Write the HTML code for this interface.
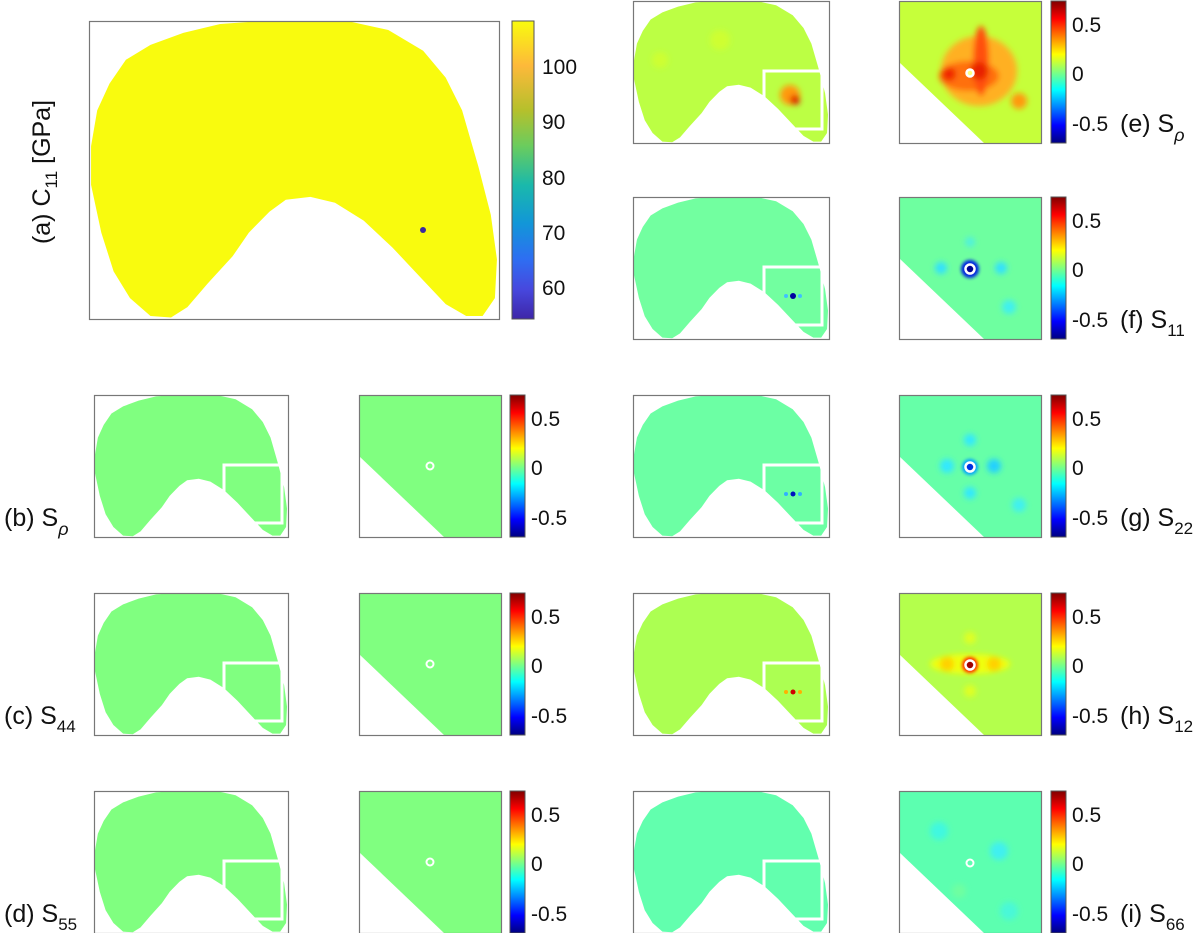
<!DOCTYPE html>
<html><head><meta charset="utf-8"><style>
html,body{margin:0;padding:0;background:#fff;}
svg{display:block;}
text{font-family:"Liberation Sans",sans-serif;fill:#111;}
</style></head><body>
<svg width="1200" height="933" viewBox="0 0 1200 933" xmlns="http://www.w3.org/2000/svg">
<defs>
<path id="bean" d="M420,0 L630,0 L730,30 L815,100 L870,190 L910,300 L950,490 L980,650 L995,800 L990,930 L960,990 L920,990 L870,950 L815,870 L740,760 L670,670 L600,610 L540,590 L480,600 L440,640 L390,710 L350,790 L290,880 L240,960 L200,995 L150,990 L100,930 L60,840 L30,710 L5,550 L5,420 L20,300 L50,210 L90,130 L150,80 L230,40 L320,10 Z"/>
<linearGradient id="jet" x1="0" y1="0" x2="0" y2="1">
<stop offset="0" stop-color="#800000"/><stop offset="0.125" stop-color="#ff0000"/>
<stop offset="0.375" stop-color="#ffff00"/><stop offset="0.5" stop-color="#80ff80"/><stop offset="0.625" stop-color="#00ffff"/>
<stop offset="0.875" stop-color="#0000ff"/><stop offset="1" stop-color="#000080"/>
</linearGradient>
<linearGradient id="parula" x1="0" y1="0" x2="0" y2="1">
<stop offset="0" stop-color="#f9fb0e"/><stop offset="0.15" stop-color="#fdb93a"/>
<stop offset="0.3" stop-color="#b5c02c"/><stop offset="0.42" stop-color="#6acc5e"/>
<stop offset="0.55" stop-color="#1ab9ab"/><stop offset="0.68" stop-color="#1296d8"/>
<stop offset="0.8" stop-color="#2e6ef2"/><stop offset="0.9" stop-color="#4748de"/>
<stop offset="1" stop-color="#3e26a8"/>
</linearGradient>
<filter id="blur" x="-50%" y="-50%" width="200%" height="200%"><feGaussianBlur stdDeviation="3"/></filter>
<filter id="blur2" x="-50%" y="-50%" width="200%" height="200%"><feGaussianBlur stdDeviation="1.5"/></filter>
</defs>

<use href="#bean" transform="translate(89,21) scale(0.41,0.298)" fill="#f9fb0e"/>
<circle cx="423" cy="230" r="3" fill="#3a2aa0"/>
<rect x="89.5" y="21.5" width="410" height="298" fill="none" stroke="#777" stroke-width="1.2"/>
<rect x="512" y="21" width="22" height="298" fill="url(#parula)" stroke="#555" stroke-width="1"/>
<g font-size="21">
<text x="542" y="74">100</text><text x="542" y="129">90</text><text x="542" y="185">80</text>
<text x="542" y="240">70</text><text x="542" y="295">60</text>
</g>
<text font-size="25" transform="translate(50,172) rotate(-90)" text-anchor="middle">(a) C<tspan font-size="17" dy="7">11</tspan><tspan dy="-7"> [GPa]</tspan></text>

<g>
<use href="#bean" transform="translate(94,395) scale(0.194,0.142)" fill="#80ff80"/>
<rect x="224" y="465" width="58" height="58" fill="none" stroke="#fff" stroke-width="3"/>
<rect x="94.5" y="395.5" width="194" height="142" fill="none" stroke="#777" stroke-width="1.2"/>
<rect x="359" y="395" width="142" height="142" fill="#80ff80"/>
<polygon points="359,456 444,537 359,537" fill="#fff"/>
<circle cx="430" cy="466" r="3.5" fill="none" stroke="#fff" stroke-width="2"/>
<rect x="359.5" y="395.5" width="142" height="142" fill="none" stroke="#777" stroke-width="1.2"/>
</g>
<g transform="translate(0,198)">
<use href="#bean" transform="translate(94,395) scale(0.194,0.142)" fill="#80ff80"/>
<rect x="224" y="465" width="58" height="58" fill="none" stroke="#fff" stroke-width="3"/>
<rect x="94.5" y="395.5" width="194" height="142" fill="none" stroke="#777" stroke-width="1.2"/>
<rect x="359" y="395" width="142" height="142" fill="#80ff80"/>
<polygon points="359,456 444,537 359,537" fill="#fff"/>
<circle cx="430" cy="466" r="3.5" fill="none" stroke="#fff" stroke-width="2"/>
<rect x="359.5" y="395.5" width="142" height="142" fill="none" stroke="#777" stroke-width="1.2"/>
</g>
<g transform="translate(0,396)">
<use href="#bean" transform="translate(94,395) scale(0.194,0.142)" fill="#80ff80"/>
<rect x="224" y="465" width="58" height="58" fill="none" stroke="#fff" stroke-width="3"/>
<rect x="94.5" y="395.5" width="194" height="142" fill="none" stroke="#777" stroke-width="1.2"/>
<rect x="359" y="395" width="142" height="142" fill="#80ff80"/>
<polygon points="359,456 444,537 359,537" fill="#fff"/>
<circle cx="430" cy="466" r="3.5" fill="none" stroke="#fff" stroke-width="2"/>
<rect x="359.5" y="395.5" width="142" height="142" fill="none" stroke="#777" stroke-width="1.2"/>
</g>

<g>
<rect x="510" y="395" width="15" height="142" fill="url(#jet)" stroke="#555"/>
<rect x="510" y="593" width="15" height="142" fill="url(#jet)" stroke="#555"/>
<rect x="510" y="791" width="15" height="142" fill="url(#jet)" stroke="#555"/>
</g>
<g font-size="21">
<text x="531" y="426">0.5</text><text x="531" y="475">0</text><text x="531" y="525">-0.5</text>
<text x="531" y="624">0.5</text><text x="531" y="673">0</text><text x="531" y="723">-0.5</text>
<text x="531" y="822">0.5</text><text x="531" y="871">0</text><text x="531" y="921">-0.5</text>
</g>
<g font-size="25">
<text x="4" y="526">(b) S<tspan font-size="18" dy="9" font-style="italic">ρ</tspan></text>
<text x="4" y="724">(c) S<tspan font-size="17" dy="8">44</tspan></text>
<text x="4" y="922">(d) S<tspan font-size="17" dy="8">55</tspan></text>
</g>

<g>
<use href="#bean" transform="translate(633,1) scale(0.196,0.142)" fill="#bcff44"/>
<g filter="url(#blur)">
<circle cx="790" cy="95" r="10" fill="#ff9a10"/>
<circle cx="795" cy="100" r="5" fill="#e02000"/>
<circle cx="660" cy="60" r="8" fill="#d6ff28" opacity="0.7"/>
<circle cx="720" cy="40" r="10" fill="#d6ff28" opacity="0.7"/>
</g>
<rect x="764" y="71" width="58" height="58" fill="none" stroke="#fff" stroke-width="3"/>
<rect x="633.5" y="1.5" width="196" height="142" fill="none" stroke="#777" stroke-width="1.2"/>
<svg x="899" y="1" width="142" height="142">
<rect width="142" height="142" fill="#c6ff3a"/>
<g filter="url(#blur)">
<ellipse cx="80" cy="70" rx="38" ry="35" fill="#ffb020"/>
<ellipse cx="70" cy="75" rx="30" ry="15" fill="#ff7010"/>
<ellipse cx="82" cy="60" rx="8" ry="35" fill="#ff5010"/>
<circle cx="80" cy="70" r="9" fill="#e82000"/>
<circle cx="50" cy="73" r="7" fill="#f02800"/>
<circle cx="120" cy="100" r="8" fill="#ff9a10"/>
</g>
<polygon points="0,61 85,142 0,142" fill="#fff"/>
<circle cx="71" cy="72" r="3.5" fill="#ffff80" stroke="#fff" stroke-width="2.5"/>
</svg>
<rect x="899.5" y="1.5" width="142" height="142" fill="none" stroke="#777" stroke-width="1.2"/>
</g>

<g>
<use href="#bean" transform="translate(633,197) scale(0.196,0.142)" fill="#72ffa0"/>
<rect x="764" y="267" width="58" height="58" fill="none" stroke="#fff" stroke-width="3"/>
<circle cx="793" cy="296" r="3" fill="#0000a0"/>
<circle cx="786" cy="296" r="2" fill="#40c0ff"/><circle cx="800" cy="296" r="2" fill="#40c0ff"/>
<rect x="633.5" y="197.5" width="196" height="142" fill="none" stroke="#777" stroke-width="1.2"/>
<svg x="899" y="197" width="142" height="142">
<rect width="142" height="142" fill="#6effa0"/>
<g filter="url(#blur)">
<circle cx="42" cy="71" r="6" fill="#30e0ff"/><circle cx="102" cy="71" r="6" fill="#30e0ff"/>
<circle cx="71" cy="45" r="5" fill="#50f0e0"/><circle cx="110" cy="110" r="7" fill="#40f0f0"/>
</g>
<circle cx="71" cy="72" r="9" fill="#0020e0" filter="url(#blur2)"/>
<polygon points="0,61 85,142 0,142" fill="#fff"/>
<circle cx="71" cy="72" r="4.5" fill="#000090" stroke="#fff" stroke-width="2.5"/>
</svg>
<rect x="899.5" y="197.5" width="142" height="142" fill="none" stroke="#777" stroke-width="1.2"/>
</g>

<g>
<use href="#bean" transform="translate(633,395) scale(0.196,0.142)" fill="#6cffa4"/>
<rect x="764" y="465" width="58" height="58" fill="none" stroke="#fff" stroke-width="3"/>
<circle cx="793" cy="494" r="2.5" fill="#0010c0"/>
<circle cx="786" cy="494" r="2" fill="#30b0ff"/><circle cx="800" cy="494" r="2" fill="#30b0ff"/>
<rect x="633.5" y="395.5" width="196" height="142" fill="none" stroke="#777" stroke-width="1.2"/>
<svg x="899" y="395" width="142" height="142">
<rect width="142" height="142" fill="#66ffa8"/>
<g filter="url(#blur)">
<circle cx="48" cy="71" r="7" fill="#30e8ff"/><circle cx="95" cy="71" r="7" fill="#20d0ff"/>
<circle cx="71" cy="45" r="6" fill="#30e8ff"/><circle cx="71" cy="98" r="6" fill="#30e8ff"/>
<circle cx="120" cy="110" r="7" fill="#40f0f0"/>
</g>
<circle cx="71" cy="72" r="8" fill="#00a0ff" filter="url(#blur2)"/>
<polygon points="0,61 85,142 0,142" fill="#fff"/>
<circle cx="71" cy="72" r="4.5" fill="#0030e0" stroke="#fff" stroke-width="2.5"/>
</svg>
<rect x="899.5" y="395.5" width="142" height="142" fill="none" stroke="#777" stroke-width="1.2"/>
</g>

<g>
<use href="#bean" transform="translate(633,593) scale(0.196,0.142)" fill="#acff52"/>
<rect x="764" y="663" width="58" height="58" fill="none" stroke="#fff" stroke-width="3"/>
<circle cx="793" cy="692" r="2.5" fill="#d00000"/>
<circle cx="786" cy="692" r="2" fill="#ffb000"/><circle cx="800" cy="692" r="2" fill="#ffb000"/>
<rect x="633.5" y="593.5" width="196" height="142" fill="none" stroke="#777" stroke-width="1.2"/>
<svg x="899" y="593" width="142" height="142">
<rect width="142" height="142" fill="#b4ff4c"/>
<g filter="url(#blur)">
<ellipse cx="71" cy="71" rx="40" ry="10" fill="#f0ff10"/>
<circle cx="48" cy="71" r="7" fill="#ffd000"/><circle cx="95" cy="71" r="7" fill="#ffd000"/>
<circle cx="71" cy="45" r="6" fill="#e0ff20"/><circle cx="71" cy="98" r="6" fill="#e0ff20"/>
</g>
<circle cx="71" cy="72" r="8" fill="#ff3000" filter="url(#blur2)"/>
<polygon points="0,61 85,142 0,142" fill="#fff"/>
<circle cx="71" cy="72" r="4.5" fill="#a00000" stroke="#fff" stroke-width="2.5"/>
</svg>
<rect x="899.5" y="593.5" width="142" height="142" fill="none" stroke="#777" stroke-width="1.2"/>
</g>

<g>
<use href="#bean" transform="translate(633,791) scale(0.196,0.142)" fill="#62ffae"/>
<rect x="764" y="861" width="58" height="58" fill="none" stroke="#fff" stroke-width="3"/>
<rect x="633.5" y="791.5" width="196" height="142" fill="none" stroke="#777" stroke-width="1.2"/>
<svg x="899" y="791" width="142" height="142">
<rect width="142" height="142" fill="#5cffb0"/>
<g filter="url(#blur)">
<circle cx="40" cy="40" r="9" fill="#40f8e0"/><circle cx="100" cy="60" r="9" fill="#40f0f0"/>
<circle cx="110" cy="120" r="9" fill="#48f8d8"/><circle cx="60" cy="100" r="7" fill="#70ffa0"/>
</g>
<polygon points="0,61 85,142 0,142" fill="#fff"/>
<circle cx="71" cy="72" r="3.5" fill="none" stroke="#fff" stroke-width="2"/>
</svg>
<rect x="899.5" y="791.5" width="142" height="142" fill="none" stroke="#777" stroke-width="1.2"/>
</g>

<g>
<rect x="1051" y="1" width="15" height="142" fill="url(#jet)" stroke="#555"/>
<rect x="1051" y="197" width="15" height="142" fill="url(#jet)" stroke="#555"/>
<rect x="1051" y="395" width="15" height="142" fill="url(#jet)" stroke="#555"/>
<rect x="1051" y="593" width="15" height="142" fill="url(#jet)" stroke="#555"/>
<rect x="1051" y="791" width="15" height="142" fill="url(#jet)" stroke="#555"/>
</g>
<g font-size="21">
<text x="1072" y="32">0.5</text><text x="1072" y="81">0</text><text x="1072" y="131">-0.5</text>
<text x="1072" y="228">0.5</text><text x="1072" y="277">0</text><text x="1072" y="327">-0.5</text>
<text x="1072" y="426">0.5</text><text x="1072" y="475">0</text><text x="1072" y="525">-0.5</text>
<text x="1072" y="624">0.5</text><text x="1072" y="673">0</text><text x="1072" y="723">-0.5</text>
<text x="1072" y="822">0.5</text><text x="1072" y="871">0</text><text x="1072" y="921">-0.5</text>
</g>
<g font-size="25">
<text x="1120" y="132">(e) S<tspan font-size="18" dy="9" font-style="italic">ρ</tspan></text>
<text x="1120" y="328">(f) S<tspan font-size="17" dy="8">11</tspan></text>
<text x="1120" y="526">(g) S<tspan font-size="17" dy="8">22</tspan></text>
<text x="1120" y="724">(h) S<tspan font-size="17" dy="8">12</tspan></text>
<text x="1120" y="922">(i) S<tspan font-size="17" dy="8">66</tspan></text>
</g>
</svg>
</body></html>
